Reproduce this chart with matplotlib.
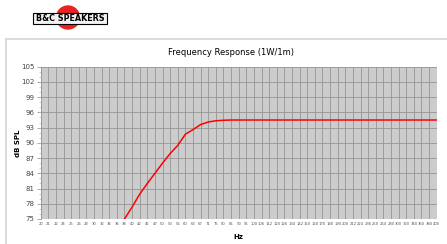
import matplotlib

matplotlib.use("Agg")
import matplotlib.pyplot as plt
from matplotlib.patches import Circle, Rectangle
import numpy as np

FREQ_LABELS = ["20", "21", "22", "24", "25", "26", "28", "30", "32", "34", "36", "38",
               "40", "42", "45", "47", "50", "53", "56", "60", "63", "67", "71", "75",
               "80", "85", "90", "95", "100", "106", "112", "120", "126", "134", "142",
               "150", "160", "170", "180", "190", "200", "212", "224", "236", "250",
               "264", "280", "300", "320", "340", "360", "380", "400"]
# response from 38 Hz to 400 Hz (dB SPL at 1W/1m)
SPL = [75.0, 77.35, 79.9, 82.0, 84.0, 86.0, 87.9, 89.5, 91.7, 92.6, 93.6, 94.1, 94.35,
       94.45, 94.5, 94.5, 94.5, 94.5, 94.5, 94.5, 94.5, 94.5, 94.5, 94.5, 94.5, 94.5,
       94.5, 94.5, 94.5, 94.5, 94.5, 94.5, 94.5, 94.5, 94.5, 94.5, 94.5, 94.5, 94.5,
       94.5, 94.5, 94.5]
START = FREQ_LABELS.index("38")
Y_TICKS = [75, 78, 81, 84, 87, 90, 93, 96, 99, 102, 105]

W, H = 447, 244
fig = plt.figure(figsize=(W / 100, H / 100), dpi=100)

# page decoration in pixel coordinates
deco = fig.add_axes([0, 0, 1, 1], zorder=0)
deco.set_xlim(0, W)
deco.set_ylim(H, 0)
deco.axis("off")
deco.plot([6, W], [38.5, 38.5], color="#d4d4d4", linewidth=1.2)
deco.plot([6, 6], [38.5, H], color="#d4d4d4", linewidth=1.2)
deco.add_patch(Circle((68, 17.5), 11.5, color="#e8221f", zorder=1))
deco.add_patch(Rectangle((33, 12.5), 74, 11, facecolor="#f2f2f2", edgecolor="black",
                         linewidth=0.8, zorder=2))
deco.text(70, 18.3, "B&C SPEAKERS", ha="center", va="center", fontsize=5.8,
          fontweight="bold", color="black", zorder=3, family="DejaVu Sans Condensed")

ax = fig.add_axes([40.7 / W, 1 - 219 / H, 396 / W, 152.3 / H], zorder=1)
ax.set_facecolor("#cccccc")
x = np.arange(len(FREQ_LABELS))
ax.plot(x[START:START + len(SPL)], SPL, color="#ff0000", linewidth=1.1, zorder=3)

ax.set_xlim(0, len(FREQ_LABELS) - 1)
ax.set_ylim(75, 105)
ax.set_xticks(x)
ax.set_xticklabels(FREQ_LABELS, fontsize=2.7, color="#555555")
ax.set_yticks(Y_TICKS)
ax.set_yticklabels([str(v) for v in Y_TICKS], fontsize=5, color="#444444")
ax.set_yticks(np.arange(75, 106, 1), minor=True)
ax.tick_params(axis="x", length=0, pad=2)
ax.tick_params(axis="y", which="major", length=3, width=0.5, color="#888888", pad=1.5)
ax.tick_params(axis="y", which="minor", length=1.5, width=0.4, color="#aaaaaa")
ax.grid(True, which="major", color="#959595", linewidth=0.6)
for side in ["top", "right", "bottom"]:
    ax.spines[side].set_visible(False)
ax.spines["left"].set_color("#999999")
ax.spines["left"].set_linewidth(0.6)

ax.set_title("Frequency Response (1W/1m)", fontsize=6, pad=8.5, x=0.48)
ax.set_xlabel("Hz", fontsize=5, fontweight="bold", labelpad=6)
ax.set_ylabel("dB SPL", fontsize=5, fontweight="bold", labelpad=0)

fig.savefig("out.png", dpi=100)
